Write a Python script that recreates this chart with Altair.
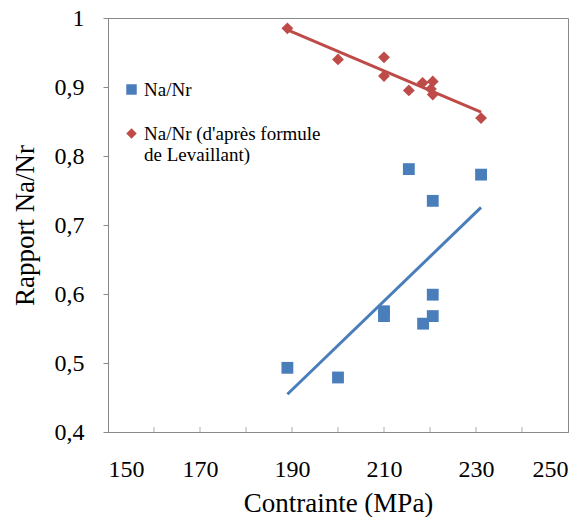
import altair as alt
import pandas as pd

# Contrainte (MPa) and rapport Na/Nr
x_mesure = [189, 200, 210, 210, 215.4, 218.5, 220.6, 220.6, 220.6, 231.1]
y_mesure = [0.493, 0.479, 0.568, 0.575, 0.781, 0.557, 0.735, 0.599, 0.568, 0.773]

x_levaillant = [189, 200, 210, 210, 215.4, 218.4, 220.6, 220.2, 220.6, 231.1]
y_levaillant = [0.985, 0.940, 0.943, 0.916, 0.895, 0.906, 0.908, 0.897, 0.889, 0.855]

series_names = ["Na/Nr", "Na/Nr (d'après formule|de Levaillant)"]
series_colors = ["#4A7EBB", "#BE4B48"]
series_shapes = ["square", "diamond"]

x_label_values = [150, 170, 190, 210, 230, 250]
x_minor_ticks = [160, 170, 180, 190, 200, 210, 220, 230, 240]
y_values = [0.4, 0.5, 0.6, 0.7, 0.8, 0.9, 1.0]

df = pd.DataFrame({
    "contrainte": x_mesure + x_levaillant,
    "rapport": y_mesure + y_levaillant,
    "series": [series_names[0]] * len(x_mesure) + [series_names[1]] * len(x_levaillant),
})
df_ticks = pd.DataFrame({"contrainte": x_minor_ticks})

FONT = "'Liberation Serif', 'Times New Roman', Times, serif"
GRAY = "#898989"
W, H = 460, 414

xs = alt.Scale(domain=[150, 250], nice=False, zero=False)
ys = alt.Scale(domain=[0.4, 1.0], nice=False, zero=False)
cs = alt.Scale(domain=series_names, range=series_colors)
ss = alt.Scale(domain=series_names, range=series_shapes)

x_axis = alt.Axis(
    values=x_label_values, title="Contrainte (MPa)", grid=False,
    ticks=False, tickSize=0, domainColor=GRAY,
    labelFont=FONT, labelFontSize=24, labelColor="#000000",
    labelBaseline="alphabetic", labelPadding=44,
    titleFont=FONT, titleFontSize=27, titleFontWeight="normal", titleColor="#000000",
    titleX=W / 2, titleY=79, titleAlign="center", titleBaseline="alphabetic",
)
y_axis = alt.Axis(
    values=y_values, title="Rapport Na/Nr", grid=False,
    ticks=True, tickSize=5, tickColor=GRAY, domainColor=GRAY,
    labelFont=FONT, labelFontSize=24, labelColor="#000000", labelPadding=19,
    labelExpr="datum.value == 1 ? '1' : replace(format(datum.value, '.1f'), '.', ',')",
    titleFont=FONT, titleFontSize=27, titleFontWeight="normal", titleColor="#000000",
    titleAngle=270, titleX=-75, titleY=H / 2, titleAlign="center", titleBaseline="alphabetic",
)

legend = alt.Legend(
    title=None, orient="none", legendX=14, legendY=62, padding=0,
    symbolSize=110, symbolStrokeWidth=0, labelOffset=3, rowPadding=24,
    labelFont=FONT, labelFontSize=19, labelColor="#000000", labelLimit=400,
    labelExpr="split(datum.label, '|')",
)

ticks = alt.Chart(df_ticks).mark_tick(color=GRAY, thickness=1, size=5).encode(
    x=alt.X("contrainte:Q", scale=xs, axis=x_axis),
    y=alt.value(H - 2.5),
)

lines = alt.Chart(df).transform_regression(
    "contrainte", "rapport", groupby=["series"]
).mark_line(strokeWidth=3).encode(
    x=alt.X("contrainte:Q", scale=xs, axis=x_axis),
    y=alt.Y("rapport:Q", scale=ys, axis=y_axis),
    color=alt.Color("series:N", scale=cs, legend=None),
)

points = alt.Chart(df).mark_point(filled=True, opacity=1, size=140, strokeWidth=0).encode(
    x=alt.X("contrainte:Q", scale=xs, axis=x_axis),
    y=alt.Y("rapport:Q", scale=ys, axis=y_axis),
    color=alt.Color("series:N", scale=cs, legend=legend),
    shape=alt.Shape("series:N", scale=ss, legend=legend),
)

chart = alt.layer(ticks, lines, points).resolve_legend(
    color="independent", shape="independent"
).properties(
    width=W, height=H, autosize="none",
    padding={"left": 100, "top": 10, "right": 12, "bottom": 85},
).configure(
    background="#ffffff", font=FONT
).configure_axis(
    labelFont=FONT, titleFont=FONT
).configure_legend(
    labelFont=FONT
).configure_view(
    stroke=GRAY, strokeWidth=1
)

chart.save("out.html", embed_options={"renderer": "svg", "actions": False})
